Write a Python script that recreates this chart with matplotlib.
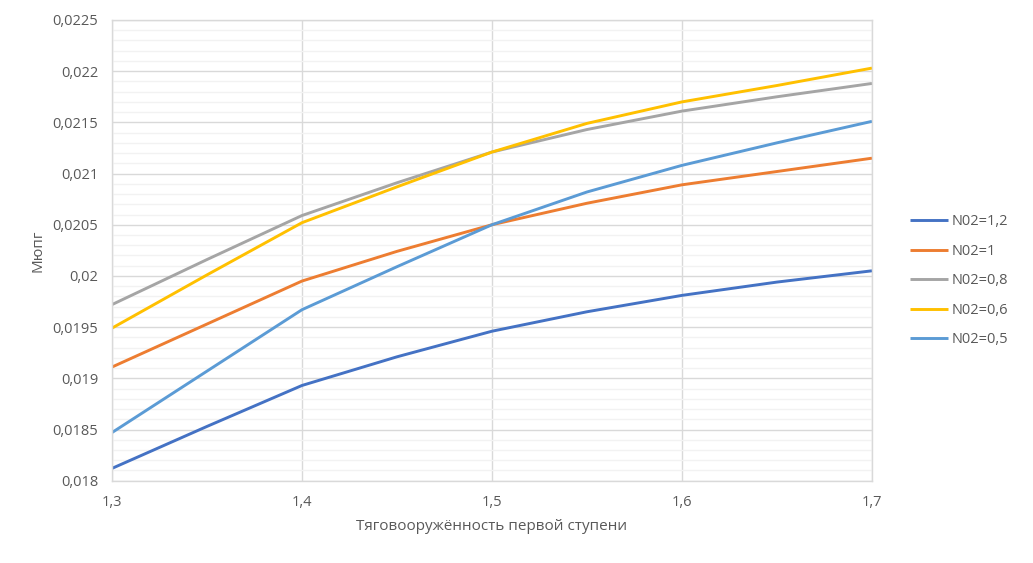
import numpy as np
import matplotlib
matplotlib.use("Agg")
import matplotlib.pyplot as plt
from matplotlib.ticker import FuncFormatter, MultipleLocator

plt.rcParams['font.family'] = ['Open Sans', 'DejaVu Sans']

# тяговооружённость первой ступени
x = [1.3, 1.35, 1.4, 1.45, 1.5, 1.55, 1.6, 1.65, 1.7]

# Мюпг для разных N02
n12 = [0.01812, 0.01853, 0.01893, 0.01921, 0.01946, 0.01965, 0.01981, 0.01994, 0.02005]
n10 = [0.01911, 0.01953, 0.01995, 0.02024, 0.02050, 0.02071, 0.02089, 0.02102, 0.02115]
n08 = [0.01972, 0.02016, 0.02059, 0.02091, 0.02121, 0.02143, 0.02161, 0.02175, 0.02188]
n06 = [0.01949, 0.02001, 0.02052, 0.02087, 0.02121, 0.02149, 0.02170, 0.02186, 0.02203]
n05 = [0.01847, 0.01907, 0.01967, 0.02009, 0.02050, 0.02082, 0.02108, 0.02130, 0.02151]

names = ["N02=1,2", "N02=1", "N02=0,8", "N02=0,6", "N02=0,5"]
colors = ["#4472C4", "#ED7D31", "#A5A5A5", "#FFC000", "#5B9BD5"]

fig = plt.figure(figsize=(10.33, 5.63), dpi=100)
ax = fig.add_axes([0.1084, 0.1462, 0.7357, 0.8183])

for y, nm, c in zip([n12, n10, n08, n06, n05], names, colors):
    ax.plot(x, y, color=c, lw=2.1, label=nm, solid_capstyle='butt',
            solid_joinstyle='round')

ax.set_xlim(1.3, 1.7)
ax.set_ylim(0.018, 0.0225)
ax.xaxis.set_major_locator(MultipleLocator(0.1))
ax.yaxis.set_major_locator(MultipleLocator(0.0005))
ax.yaxis.set_minor_locator(MultipleLocator(0.0001))

fmt = FuncFormatter(lambda v, p: ('%g' % round(v, 6)).replace('.', ','))
ax.xaxis.set_major_formatter(fmt)
ax.yaxis.set_major_formatter(fmt)

ax.grid(which='major', color='#D9D9D9', lw=1.0)
ax.grid(which='minor', axis='y', color='#F2F2F2', lw=1.0)
ax.set_axisbelow(True)
for s in ax.spines.values():
    s.set_color('#D9D9D9')
    s.set_linewidth(1.0)

ax.tick_params(which='both', length=0, colors='#595959', labelsize=10.5)
ax.tick_params(axis='x', pad=10)
ax.tick_params(axis='y', pad=10)

ax.set_xlabel("Тяговооружённость первой ступени", color='#595959', fontsize=11, labelpad=7)
ax.set_ylabel("Мюпг", color='#595959', fontsize=11, labelpad=5)

leg = ax.legend(loc='center left', bbox_to_anchor=(1.033, 0.434), frameon=False,
                fontsize=10.5, handlelength=2.6, handletextpad=0.25, labelspacing=1.0)
for t in leg.get_texts():
    t.set_color('#595959')

fig.savefig("out.png", dpi=100)
